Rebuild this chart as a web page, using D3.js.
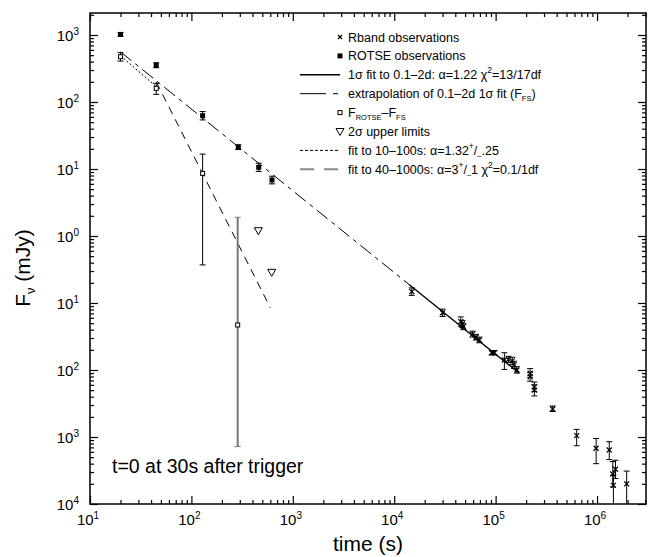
<!DOCTYPE html>
<html>
<head>
<meta charset="utf-8">
<script src="https://cdn.jsdelivr.net/npm/d3@7"></script>
<style>
  body { margin: 0; background: #fff; }
  svg { display: block; font-family: "Liberation Sans", Arial, Helvetica, sans-serif; }
</style>
</head>
<body>
<svg width="657" height="557"></svg>
<script>
// ROTSE observations (filled squares)
const rotseTime = [20, 45, 129, 290, 461, 623];
const rotseFlux = [1020, 353, 62.5, 21.1, 10.6, 6.85];
const rotseLo   = [960, 325, 54, 19.5, 9.2, 6.0];
const rotseHi   = [1090, 385, 72, 23, 12.2, 7.8];

// F_ROTSE - F_FS (open squares)
const diffTime = [20, 45, 129, 286];
const diffFlux = [474, 160, 8.6, 0.047];
const diffLo   = [409, 130, 0.37, 0.00072];
const diffHi   = [544, 190, 16.7, 1.9];

// 2 sigma upper limits
const ulTime = [457, 619];
const ulFlux = [1.2, 0.287];

// R band observations (crosses)
const rTime = [14900, 30000, 45300, 47000, 48100, 59300, 64100, 69100, 91600, 97300,
               122000, 134000, 146000, 152000, 162000, 219000, 219000, 241000, 241000,
               365000, 630000, 980000, 1320000, 1430000, 1450000, 1520000, 1960000];
const rFlux = [0.148, 0.0716, 0.0526, 0.0486, 0.0443, 0.0344, 0.0308, 0.028, 0.0181, 0.0181,
               0.0141, 0.0144, 0.0137, 0.0119, 0.0100, 0.0090, 0.0079, 0.0056, 0.0050,
               0.00262, 0.00105, 0.00068, 0.00064, 0.00028, 0.00019, 0.00033, 0.00020];
const rLo   = [0.130, 0.063, 0.045, 0.043, 0.040, 0.031, 0.028, 0.0255, 0.0168, 0.0168,
               0.0102, 0.013, 0.012, 0.0105, 0.0090, 0.0078, 0.0068, 0.0048, 0.0041,
               0.0024, 0.00074, 0.00040, 0.00046, 0.00018, 0.00008, 0.00024, 0.00009];
const rHi   = [0.168, 0.081, 0.062, 0.055, 0.049, 0.038, 0.034, 0.031, 0.0195, 0.0195,
               0.0181, 0.016, 0.0155, 0.0135, 0.0112, 0.0105, 0.0092, 0.0066, 0.0060,
               0.0029, 0.0013, 0.00095, 0.00085, 0.00043, 0.00027, 0.00045, 0.00031];

// fitted lines (end points)
const fitLine    = [[14000, 0.189], [170000, 0.0090]];
const extrapLine = [[20, 560], [14000, 0.189]];
const earlyLine  = [[20, 490], [46, 165]];
const steepLine  = [[45, 200], [600, 0.085]];

// tick labels
const xTickExp  = [1, 2, 3, 4, 5, 6];
const yTickExp  = [3, 2, 1, 0, -1, -2, -3, -4];
const yTickText = ["3", "2", "1", "0", "1", "2", "3", "4"];

const legendRows = [
  {kind: "cross", text: [["Rband observations"]]},
  {kind: "filled", text: [["ROTSE observations"]]},
  {kind: "solid", text: [["1σ fit to 0.1–2d: α=1.22 χ"], ["2", "sup"], ["=13/17df"]]},
  {kind: "extrap", text: [["extrapolation of 0.1–2d 1σ fit (F"], ["FS", "sub"], [")"]]},
  {kind: "open", text: [["F"], ["ROTSE", "sub"], ["–F"], ["FS", "sub"]]},
  {kind: "tri", text: [["2σ upper limits"]]},
  {kind: "dotted", text: [["fit to 10–100s: α=1.32"], ["+", "sup"], ["/"], ["–", "sub"], [".25"]]},
  {kind: "gdash", text: [["fit to 40–1000s: α=3"], ["+", "sup"], ["/"], ["–", "sub"], ["1  χ"], ["2", "sup"], ["=0.1/1df"]]}
];

const margin = {top: 13, right: 11, bottom: 53, left: 90};
const width = 657 - margin.left - margin.right;
const height = 557 - margin.top - margin.bottom;

const svg = d3.select("svg");
const g = svg.append("g").attr("transform", `translate(${margin.left},${margin.top})`);

const x = d3.scaleLog().domain([10, 3.04e6]).range([0, width]);
const y = d3.scaleLog().domain([1e-4, 2130]).range([height, 0]);

g.append("clipPath").attr("id", "clip")
  .append("rect").attr("width", width).attr("height", height);

// ticks
const xMajor = xTickExp.map(e => Math.pow(10, e));
const yMajor = yTickExp.map(e => Math.pow(10, e));
const xMinor = x.ticks(60).filter(v => !xMajor.some(m => Math.abs(m - v) / m < 1e-6));
const yMinor = y.ticks(60).filter(v => !yMajor.some(m => Math.abs(m - v) / m < 1e-6));

function drawAxis(axis, tr) {
  const a = g.append("g").attr("transform", tr).call(axis);
  a.select(".domain").remove();
  a.selectAll("line").attr("stroke", "#000").attr("stroke-width", 1.2);
}
drawAxis(d3.axisBottom(x).tickValues(xMajor).tickSize(-8).tickFormat(""), `translate(0,${height})`);
drawAxis(d3.axisBottom(x).tickValues(xMinor).tickSize(-4).tickFormat(""), `translate(0,${height})`);
drawAxis(d3.axisTop(x).tickValues(xMajor).tickSize(-8).tickFormat(""), "translate(0,0)");
drawAxis(d3.axisTop(x).tickValues(xMinor).tickSize(-4).tickFormat(""), "translate(0,0)");
drawAxis(d3.axisLeft(y).tickValues(yMajor).tickSize(-8).tickFormat(""), "translate(0,0)");
drawAxis(d3.axisLeft(y).tickValues(yMinor).tickSize(-4).tickFormat(""), "translate(0,0)");
drawAxis(d3.axisRight(y).tickValues(yMajor).tickSize(-8).tickFormat(""), `translate(${width},0)`);
drawAxis(d3.axisRight(y).tickValues(yMinor).tickSize(-4).tickFormat(""), `translate(${width},0)`);

g.append("rect").attr("width", width).attr("height", height)
  .attr("fill", "none").attr("stroke", "#000").attr("stroke-width", 1.5);

// tick labels
xTickExp.forEach(e => {
  const t = g.append("text").attr("x", x(Math.pow(10, e)) - 2).attr("y", height + 21)
    .attr("text-anchor", "middle").attr("font-size", 15);
  t.append("tspan").text("10");
  t.append("tspan").attr("dy", -6).attr("font-size", 10).text(e);
});
yTickExp.forEach((e, i) => {
  const t = g.append("text").attr("x", -11).attr("y", y(Math.pow(10, e)) + 6)
    .attr("text-anchor", "end").attr("font-size", 15);
  t.append("tspan").text("10");
  t.append("tspan").attr("dy", -6).attr("font-size", 10).text(yTickText[i]);
});

// axis titles
svg.append("text").attr("x", margin.left + width / 2).attr("y", 551)
  .attr("text-anchor", "middle").attr("font-size", 21).text("time (s)");
const yt = svg.append("text").attr("transform", "translate(30,268) rotate(-90)")
  .attr("text-anchor", "middle").attr("font-size", 21);
yt.append("tspan").text("F");
yt.append("tspan").attr("dy", 5).attr("font-size", 13).text("ν");
yt.append("tspan").attr("dy", -5).text(" (mJy)");

// lines
const plot = g.append("g").attr("clip-path", "url(#clip)");
const line = d3.line().x(d => x(d[0])).y(d => y(d[1]));
plot.append("path").attr("d", line(extrapLine)).attr("fill", "none")
  .attr("stroke", "#000").attr("stroke-width", 1).attr("stroke-dasharray", "14,5,4,5");
plot.append("path").attr("d", line(fitLine)).attr("fill", "none")
  .attr("stroke", "#000").attr("stroke-width", 1.4);
plot.append("path").attr("d", line(earlyLine)).attr("fill", "none")
  .attr("stroke", "#000").attr("stroke-width", 1).attr("stroke-dasharray", "2,2");
plot.append("path").attr("d", line(steepLine)).attr("fill", "none")
  .attr("stroke", "#000").attr("stroke-width", 1).attr("stroke-dasharray", "8,6");

// error bars
function errBars(ts, lo, hi, color, w, cap) {
  ts.forEach((t, i) => {
    const cx = x(t);
    plot.append("line").attr("x1", cx).attr("x2", cx).attr("y1", y(lo[i])).attr("y2", y(hi[i]))
      .attr("stroke", color).attr("stroke-width", w);
    [lo[i], hi[i]].forEach(v => {
      plot.append("line").attr("x1", cx - cap).attr("x2", cx + cap).attr("y1", y(v)).attr("y2", y(v))
        .attr("stroke", color).attr("stroke-width", 1);
    });
  });
}
errBars(rotseTime, rotseLo, rotseHi, "#000", 1, 3);
errBars(diffTime.slice(0, 3), diffLo.slice(0, 3), diffHi.slice(0, 3), "#000", 1, 3);
errBars(diffTime.slice(3), diffLo.slice(3), diffHi.slice(3), "#777", 2, 3);
errBars(rTime, rLo, rHi, "#000", 1, 3);

// markers
function cross(sel, cx, cy, s) {
  sel.append("path").attr("d", `M${cx - s},${cy - s}L${cx + s},${cy + s}M${cx - s},${cy + s}L${cx + s},${cy - s}`)
    .attr("stroke", "#000").attr("stroke-width", 1.2).attr("fill", "none");
}
function filledSq(sel, cx, cy) {
  sel.append("rect").attr("x", cx - 2.5).attr("y", cy - 2.5).attr("width", 5).attr("height", 5).attr("fill", "#000");
}
function openSq(sel, cx, cy) {
  sel.append("rect").attr("x", cx - 2).attr("y", cy - 2).attr("width", 4).attr("height", 4)
    .attr("fill", "#fff").attr("stroke", "#000").attr("stroke-width", 1);
}
function tri(sel, cx, cy) {
  sel.append("path").attr("d", `M${cx - 4},${cy - 3}L${cx + 4},${cy - 3}L${cx},${cy + 4}Z`)
    .attr("fill", "#fff").attr("stroke", "#000").attr("stroke-width", 1);
}
rTime.forEach((t, i) => cross(plot, x(t), y(rFlux[i]), 2.5));
rotseTime.forEach((t, i) => filledSq(plot, x(t), y(rotseFlux[i])));
diffTime.forEach((t, i) => openSq(plot, x(t), y(diffFlux[i])));
ulTime.forEach((t, i) => tri(plot, x(t), y(ulFlux[i])));

// annotation
g.append("text").attr("x", 22).attr("y", 460).attr("font-size", 19.5).text("t=0 at 30s after trigger");

// legend
const leg = svg.append("g");
legendRows.forEach((r, i) => {
  const ly = 37 + i * 18.9;
  const sx = 340;
  if (r.kind === "cross") cross(leg, sx, ly, 2);
  if (r.kind === "filled") filledSq(leg, sx, ly);
  if (r.kind === "open") openSq(leg, sx, ly);
  if (r.kind === "tri") tri(leg, sx, ly);
  const ls = {solid: [1.4, "#000", null], extrap: [1, "#000", "26,7,5,100"],
              dotted: [1, "#000", "3,2"], gdash: [2, "#888", "14,10"]}[r.kind];
  if (ls) {
    leg.append("line").attr("x1", 300).attr("x2", 340).attr("y1", ly).attr("y2", ly)
      .attr("stroke", ls[1]).attr("stroke-width", ls[0]).attr("stroke-dasharray", ls[2]);
  }
  const t = leg.append("text").attr("x", 348).attr("y", ly + 4.5).attr("font-size", 12.5);
  let shift = 0;
  r.text.forEach(p => {
    const sp = t.append("tspan").text(p[0]);
    let target = 0;
    if (p[1] === "sup") { target = -6; sp.attr("font-size", 8.5); }
    if (p[1] === "sub") { target = 3; sp.attr("font-size", 7.5); }
    sp.attr("dy", target - shift);
    shift = target;
  });
});
</script>
</body>
</html>
